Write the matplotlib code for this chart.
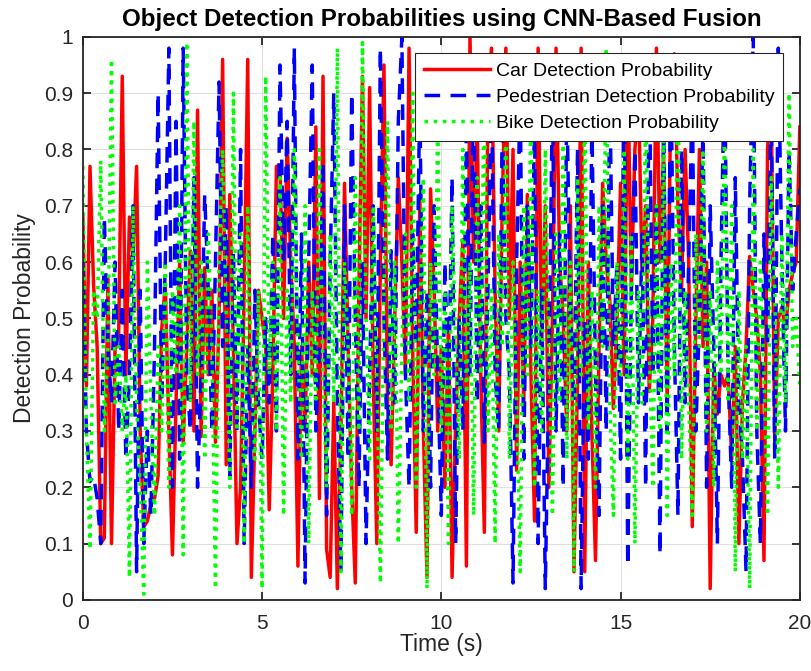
import numpy as np
import matplotlib
matplotlib.use("Agg")
import matplotlib.pyplot as plt

plt.rcParams['font.family'] = ['Liberation Sans', 'DejaVu Sans']

# time axis, 0.1 s steps
t = np.round(np.arange(0, 20.05, 0.1), 1)

car = [
    0.68, 0.38, 0.77, 0.56, 0.45, 0.10, 0.11, 0.57, 0.10, 0.45,
    0.47, 0.93, 0.40, 0.68, 0.61, 0.77, 0.30, 0.13, 0.14, 0.17,
    0.18, 0.22, 0.48, 0.56, 0.30, 0.08, 0.35, 0.60, 0.28, 0.45,
    0.62, 0.30, 0.87, 0.29, 0.59, 0.40, 0.55, 0.28, 0.50, 0.96,
    0.24, 0.72, 0.45, 0.10, 0.20, 0.55, 0.96, 0.04, 0.30, 0.55,
    0.50, 0.45, 0.16, 0.40, 0.77, 0.77, 0.50, 0.82, 0.60, 0.45,
    0.06, 0.45, 0.30, 0.60, 0.40, 0.84, 0.18, 0.93, 0.09, 0.04,
    0.35, 0.02, 0.30, 0.74, 0.45, 0.20, 0.03, 0.55, 0.93, 0.50,
    0.91, 0.40, 0.10, 0.60, 0.95, 0.35, 0.24, 0.50, 0.75, 0.60,
    0.40, 0.98, 0.45, 0.12, 0.72, 0.30, 0.04, 0.73, 0.55, 0.30,
    0.45, 0.20, 0.50, 0.04, 0.32, 0.50, 0.64, 0.06, 1.00, 0.60,
    0.85, 0.40, 0.12, 0.90, 0.98, 0.55, 0.30, 0.70, 0.98, 0.50,
    0.80, 0.23, 0.60, 0.35, 0.72, 0.40, 0.14, 0.98, 0.45, 0.70,
    0.20, 0.50, 0.98, 0.60, 0.50, 0.30, 0.70, 0.05, 0.40, 0.98,
    0.05, 0.60, 0.30, 0.07, 0.45, 0.74, 0.60, 0.53, 0.34, 0.50,
    0.74, 0.40, 0.95, 0.55, 0.80, 0.90, 0.58, 0.70, 0.37, 0.50,
    0.98, 0.60, 0.80, 0.35, 0.90, 0.97, 0.70, 0.55, 0.80, 0.60,
    0.13, 0.50, 0.80, 0.45, 0.60, 0.02, 0.42, 0.33, 0.40, 0.38,
    0.40, 0.25, 0.45, 0.10, 0.35, 0.45, 0.61, 0.55, 0.50, 0.40,
    0.07, 0.80, 0.90, 0.28, 0.50, 0.52, 0.48, 0.55, 0.58, 0.60,
    0.84,
]

pedestrian = [
    0.60, 0.30, 0.21, 0.22, 0.18, 0.10, 0.68, 0.45, 0.35, 0.60,
    0.30, 0.55, 0.25, 0.40, 0.70, 0.05, 0.55, 0.10, 0.30, 0.15,
    0.45, 0.90, 0.35, 0.60, 0.98, 0.20, 0.85, 0.25, 0.98, 0.40,
    0.30, 0.75, 0.20, 0.40, 0.72, 0.55, 0.30, 0.60, 0.92, 0.45,
    0.70, 0.22, 0.62, 0.30, 0.80, 0.10, 0.45, 0.20, 0.55, 0.35,
    0.25, 0.50, 0.35, 0.65, 0.30, 0.95, 0.60, 0.85, 0.40, 0.98,
    0.25, 0.65, 0.03, 0.60, 0.95, 0.30, 0.45, 0.78, 0.15, 0.60,
    0.90, 0.35, 0.05, 0.70, 0.25, 0.90, 0.50, 0.20, 0.60, 0.10,
    0.40, 0.70, 0.30, 0.98, 0.50, 0.25, 0.62, 0.35, 0.85, 1.00,
    0.40, 0.20, 0.65, 0.45, 0.90, 0.30, 0.55, 0.20, 0.70, 0.40,
    0.15, 0.60, 0.35, 0.75, 0.10, 0.50, 0.30, 0.85, 0.40, 0.96,
    0.35, 0.70, 0.28, 0.55, 0.90, 0.40, 0.30, 0.85, 0.50, 0.40,
    0.03, 0.60, 0.90, 0.25, 0.70, 0.45, 0.85, 0.10, 0.55, 0.02,
    0.40, 0.90, 0.30, 0.65, 0.20, 0.90, 0.50, 0.35, 0.80, 0.02,
    0.50, 0.25, 0.85, 0.40, 0.15, 0.70, 0.30, 0.90, 0.45, 0.60,
    0.25, 0.95, 0.06, 0.55, 0.80, 0.35, 0.65, 0.20, 0.95, 0.40,
    0.70, 0.08, 0.85, 0.30, 0.95, 0.45, 0.15, 0.80, 0.35, 0.60,
    0.90, 0.30, 0.50, 0.85, 0.20, 0.70, 0.45, 0.10, 0.60, 0.95,
    0.40, 0.20, 0.75, 0.35, 0.25, 0.05, 0.70, 1.00, 0.30, 0.10,
    0.65, 0.45, 0.90, 0.25, 0.98, 0.60, 0.30, 0.80, 0.55, 0.65,
    0.73,
]

bike = [
    0.77, 0.30, 0.09, 0.55, 0.50, 0.78, 0.30, 0.45, 0.96, 0.35,
    0.45, 0.30, 0.40, 0.04, 0.70, 0.35, 0.20, 0.01, 0.60, 0.35,
    0.15, 0.45, 0.30, 0.60, 0.20, 0.55, 0.40, 0.70, 0.08, 0.99,
    0.35, 0.85, 0.40, 0.60, 0.25, 0.65, 0.45, 0.02, 0.60, 0.80,
    0.50, 0.20, 0.90, 0.30, 0.65, 0.10, 0.70, 0.40, 0.25, 0.55,
    0.02, 0.93, 0.40, 0.60, 0.30, 0.75, 0.15, 0.55, 0.35, 0.80,
    0.45, 0.25, 0.70, 0.10, 0.55, 0.35, 0.80, 0.40, 0.20, 0.65,
    0.35, 0.98, 0.05, 0.60, 0.45, 0.15, 0.75, 0.30, 0.99, 0.50,
    0.25, 0.70, 0.40, 0.03, 0.55, 0.85, 0.30, 0.60, 0.10, 0.45,
    0.65, 0.35, 0.90, 0.20, 0.50, 0.75, 0.02, 0.60, 0.40, 0.85,
    0.30, 0.55, 0.10, 0.70, 0.45, 0.25, 0.80, 0.35, 0.60, 0.15,
    0.75, 0.40, 0.95, 0.30, 0.55, 0.10, 0.65, 0.45, 0.85, 0.25,
    0.60, 0.35, 0.05, 0.70, 0.40, 0.90, 0.20, 0.55, 0.30, 0.80,
    0.45, 0.15, 0.65, 0.35, 0.85, 0.25, 0.60, 0.05, 0.75, 0.40,
    0.90, 0.30, 0.55, 0.20, 0.70, 0.45, 0.98, 0.35, 0.15, 0.60,
    0.40, 0.80, 0.25, 0.65, 0.10, 0.55, 0.35, 0.90, 0.45, 0.20,
    0.70, 0.30, 0.85, 0.15, 0.60, 0.40, 0.95, 0.25, 0.55, 0.35,
    0.15, 0.65, 0.45, 0.80, 0.30, 0.55, 0.20, 0.60, 0.40, 0.85,
    0.35, 0.70, 0.05, 0.55, 0.25, 0.45, 0.02, 0.80, 0.30, 0.60,
    0.40, 0.15, 0.75, 0.55, 0.20, 0.65, 0.35, 0.90, 0.45, 0.50,
    0.38,
]

fig = plt.figure(figsize=(8.12, 6.71), dpi=100)
ax = fig.add_axes([0.102, 0.106, 0.883, 0.839])

ax.plot(t, car, color='red', linestyle='-', linewidth=2.5,
        label='Car Detection Probability')
ax.plot(t, pedestrian, color='blue', linestyle='--', linewidth=2.5,
        dashes=(4.5, 3), label='Pedestrian Detection Probability')
ax.plot(t, bike, color=(0, 1, 0), linestyle=':', linewidth=2.5,
        label='Bike Detection Probability')

ax.set_xlim(0, 20)
ax.set_ylim(0, 1)
ax.set_xticks([0, 5, 10, 15, 20])
ax.set_yticks(np.arange(0, 1.01, 0.1))
ax.set_yticklabels(['0', '0.1', '0.2', '0.3', '0.4', '0.5', '0.6', '0.7', '0.8', '0.9', '1'])
ax.tick_params(direction='in', labelsize=15, length=6, width=1.3, top=True, right=True,
               colors='#262626', pad=7)
ax.tick_params(axis='x', pad=10)
ax.grid(True, color='#e0e0e0', linewidth=0.8)
for s in ax.spines.values():
    s.set_linewidth(1.3)
    s.set_color('#262626')

ax.set_xlabel('Time (s)', fontsize=16.5, color='#262626', labelpad=0)
ax.set_ylabel('Detection Probability', fontsize=16.5, color='#262626', labelpad=6)
ax.set_title('Object Detection Probabilities using CNN-Based Fusion',
             fontsize=17.4, fontweight='bold', pad=8)

leg = ax.legend(loc='upper right', fontsize=14, fancybox=False, framealpha=1,
                edgecolor='#262626', borderaxespad=0.85, handlelength=3.4,
                handletextpad=0.3, labelspacing=0.44, borderpad=0.45)
leg.get_frame().set_linewidth(0.8)

plt.savefig('out.png', dpi=100)
